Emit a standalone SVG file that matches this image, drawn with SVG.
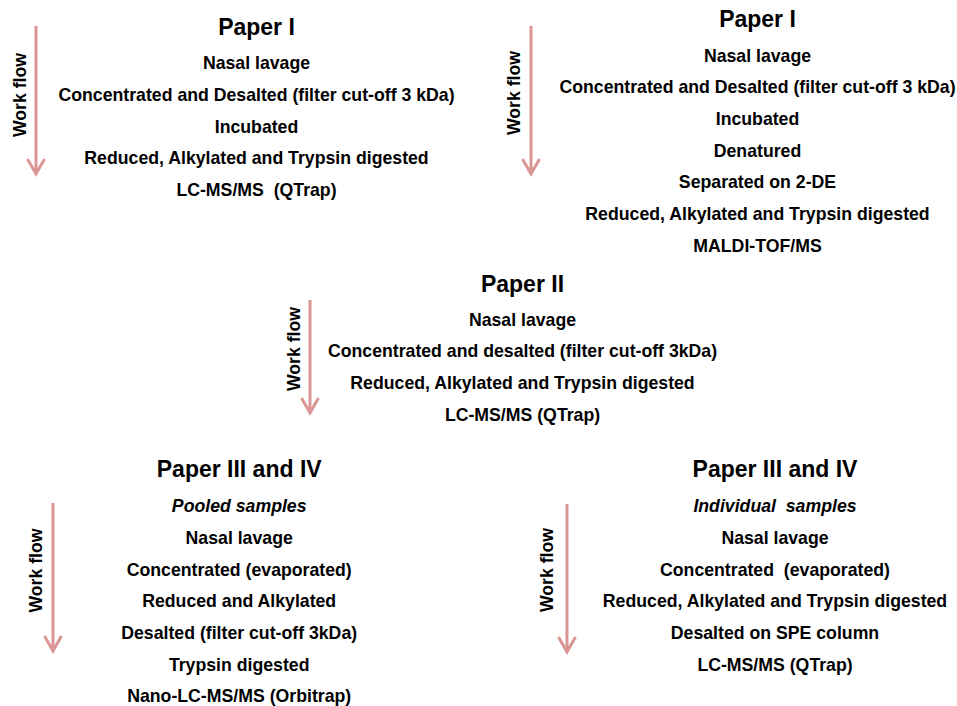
<svg xmlns="http://www.w3.org/2000/svg" width="957" height="706" viewBox="0 0 957 706">
<style>
text{font-family:"Liberation Sans",Arial,sans-serif;font-weight:bold;fill:#000;text-anchor:middle}
.t{font-size:23px}
.i{font-size:17.7px}
.it{font-style:italic}
.wf{font-size:17.7px}
.arr{fill:none;stroke:#D99694;stroke-width:3}
</style>
<rect width="957" height="706" fill="#fff"/>
<g id="connectors">
<path class="arr" d="M36,26 V173 M27.5,159 L36,174 L44.5,159"/>
<path class="arr" d="M531,26 V173 M522.5,159 L531,174 L539.5,159"/>
<path class="arr" d="M310,300 V412 M301.5,398 L310,413 L318.5,398"/>
<path class="arr" d="M53,503 V650 M44.5,636 L53,651 L61.5,636"/>
<path class="arr" d="M567,504 V651 M558.5,637 L567,652 L575.5,637"/>
</g>
<g id="paper1a">
<text class="t" x="256.5" y="35">Paper I</text>
<text class="i" x="256.5" y="69">Nasal lavage</text>
<text class="i" x="256.5" y="101">Concentrated and Desalted (filter cut-off 3 kDa)</text>
<text class="i" x="256.5" y="132.5">Incubated</text>
<text class="i" x="256.5" y="164.3">Reduced, Alkylated and Trypsin digested</text>
<text class="i" x="256.5" y="196" xml:space="preserve">LC-MS/MS  (QTrap)</text>
<text class="wf" transform="translate(25.5,95) rotate(-90)">Work flow</text>
</g>
<g id="paper1b">
<text class="t" x="757.5" y="27">Paper I</text>
<text class="i" x="757.5" y="61.7">Nasal lavage</text>
<text class="i" x="757.5" y="93.3">Concentrated and Desalted (filter cut-off 3 kDa)</text>
<text class="i" x="757.5" y="125">Incubated</text>
<text class="i" x="757.5" y="156.7">Denatured</text>
<text class="i" x="757.5" y="188.3">Separated on 2-DE</text>
<text class="i" x="757.5" y="220">Reduced, Alkylated and Trypsin digested</text>
<text class="i" x="757.5" y="251.7">MALDI-TOF/MS</text>
<text class="wf" transform="translate(520,93) rotate(-90)">Work flow</text>
</g>
<g id="paper2">
<text class="t" x="522.5" y="292">Paper II</text>
<text class="i" x="522.5" y="325.7">Nasal lavage</text>
<text class="i" x="522.5" y="357.3">Concentrated and desalted (filter cut-off 3kDa)</text>
<text class="i" x="522.5" y="389">Reduced, Alkylated and Trypsin digested</text>
<text class="i" x="522.5" y="420.7">LC-MS/MS (QTrap)</text>
<text class="wf" transform="translate(300,349) rotate(-90)">Work flow</text>
</g>
<g id="paper3a">
<text class="t" x="239.2" y="477">Paper III and IV</text>
<text class="i it" x="239.2" y="512.3">Pooled samples</text>
<text class="i" x="239.2" y="544">Nasal lavage</text>
<text class="i" x="239.2" y="575.7">Concentrated (evaporated)</text>
<text class="i" x="239.2" y="607.3">Reduced and Alkylated</text>
<text class="i" x="239.2" y="639">Desalted (filter cut-off 3kDa)</text>
<text class="i" x="239.2" y="670.7">Trypsin digested</text>
<text class="i" x="239.2" y="702.3">Nano-LC-MS/MS (Orbitrap)</text>
<text class="wf" transform="translate(42.3,570.5) rotate(-90)">Work flow</text>
</g>
<g id="paper3b">
<text class="t" x="775" y="477">Paper III and IV</text>
<text class="i it" x="775" y="512.3" xml:space="preserve">Individual  samples</text>
<text class="i" x="775" y="544">Nasal lavage</text>
<text class="i" x="775" y="575.7" xml:space="preserve">Concentrated  (evaporated)</text>
<text class="i" x="775" y="607.3">Reduced, Alkylated and Trypsin digested</text>
<text class="i" x="775" y="639">Desalted on SPE column</text>
<text class="i" x="775" y="670.7">LC-MS/MS (QTrap)</text>
<text class="wf" transform="translate(553.3,570) rotate(-90)">Work flow</text>
</g>
</svg>
